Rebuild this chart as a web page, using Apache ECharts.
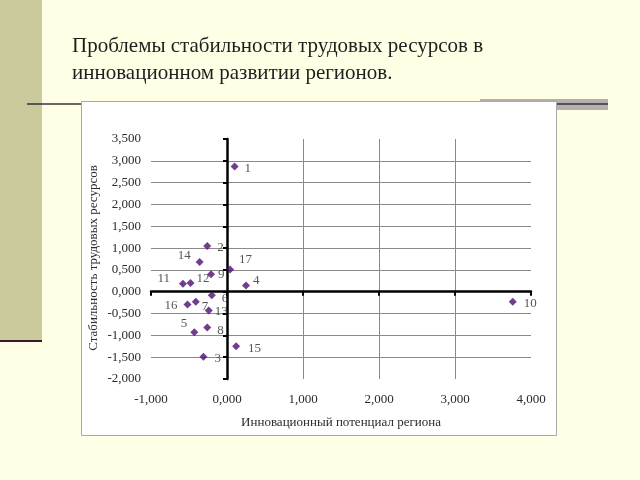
<!DOCTYPE html>
<html><head><meta charset="utf-8">
<script src="https://cdn.jsdelivr.net/npm/echarts@6/dist/echarts.min.js"></script>
<style>html,body{margin:0;padding:0;background:#FFFFE6;}#c{width:640px;height:480px;}</style>
</head><body><div id="c"></div>
<script>
const titleLines = ["Проблемы стабильности трудовых ресурсов в", "инновационном развитии регионов."];
const xName = "Инновационный потенциал региона";
const yName = "Стабильность трудовых ресурсов";
const pointLabels = ["1","2","3","4","5","6","7","8","9","10","11","12","13","14","15","16","17"];
const xValues = [0.10,-0.26,-0.31,0.25,-0.43,-0.20,-0.41,-0.26,-0.21,3.76,-0.58,-0.48,-0.24,-0.36,0.12,-0.52,0.04];
const yValues = [2.87,1.05,-1.49,0.14,-0.93,-0.08,-0.23,-0.82,0.40,-0.23,0.18,0.20,-0.43,0.68,-1.25,-0.29,0.51];
const labelPos = {
  "1":["right",[0,2]], "2":["right",[0,2]], "3":["right",[1,2]], "4":["right",[-3,-5]],
  "5":["left",[3,-9]], "6":["right",[0,3]], "7":["right",[-4,5]], "8":["right",[0,3]],
  "9":["right",[-3,0]], "10":["right",[1,2]], "11":["left",[-3,-5]], "12":["right",[-4,-4]],
  "13":["right",[-4,1]], "14":["left",[1,-6]], "15":["right",[2,2]], "16":["left",[0,1]],
  "17":["right",[-1,-10]]
};
const fmt = v => v.toFixed(3).replace('.', ',');
const serif = '"Liberation Serif","DejaVu Serif",serif';
const data = pointLabels.map((n,i)=>({
  value:[xValues[i], yValues[i]], name:n,
  label:{position:labelPos[n][0], offset:labelPos[n][1]}
}));
const chart = echarts.init(document.getElementById('c'));
chart.setOption({
  backgroundColor:'#FFFFE6',
  animation:false,
  graphic:[
    {type:'rect', shape:{x:0,y:0,width:42,height:341}, style:{fill:'#CACA9C'}, z:-10},
    {type:'rect', shape:{x:0,y:340,width:42,height:2}, style:{fill:'#3A1A2A'}, z:-9},
    {type:'rect', shape:{x:480,y:99,width:128,height:11}, style:{fill:'#B3B0AE'}, z:-9},
    {type:'line', shape:{x1:27,y1:104,x2:608,y2:104}, style:{stroke:'#3A3040',lineWidth:1.5}, z:-8},
    {type:'rect', shape:{x:81.5,y:101.5,width:475,height:334}, style:{fill:'#FFFFFF',stroke:'#A8A8A8',lineWidth:1}, z:-7},
    {type:'text', left:72, top:36, style:{text:titleLines[0], font:'21px '+serif, fill:'#1E1E1E'}},
    {type:'text', left:72, top:63, style:{text:titleLines[1], font:'21px '+serif, fill:'#1E1E1E'}},
    {type:'text', x:341, y:423, style:{text:xName, font:'13px '+serif, fill:'#2A2A2A', align:'center', verticalAlign:'middle'}},
    {type:'text', x:94, y:258, rotation:Math.PI/2, style:{text:yName, font:'13px '+serif, fill:'#2A2A2A', align:'center', verticalAlign:'middle'}}
  ],
  grid:{left:151, right:109, top:139, bottom:101},
  xAxis:[
    {type:'value', min:-1, max:4, interval:1, position:'bottom',
     axisLine:{show:false, onZero:false}, axisTick:{show:false},
     axisLabel:{formatter:fmt, fontFamily:serif, fontSize:13, color:'#2A2A2A', margin:14},
     splitLine:{show:true, showMinLine:false, showMaxLine:false, lineStyle:{color:'#8A8A8A', width:1}}},
    {type:'value', min:-1, max:4, interval:1, position:'bottom',
     axisLine:{show:true, onZero:true, onZeroAxisIndex:0, lineStyle:{color:'#000', width:2.5}},
     axisTick:{show:true, length:4, lineStyle:{color:'#000', width:2}},
     axisLabel:{show:false}, splitLine:{show:false}}
  ],
  yAxis:[
    {type:'value', min:-2, max:3.5, interval:0.5, position:'left',
     axisLine:{show:false, onZero:false}, axisTick:{show:false},
     axisLabel:{formatter:fmt, fontFamily:serif, fontSize:13, color:'#2A2A2A', margin:10},
     splitLine:{show:true, showMinLine:false, showMaxLine:false, lineStyle:{color:'#8A8A8A', width:1}}},
    {type:'value', min:-2, max:3.5, interval:0.5, position:'left',
     axisLine:{show:true, onZero:true, onZeroAxisIndex:0, lineStyle:{color:'#000', width:2.5}},
     axisTick:{show:true, length:4, lineStyle:{color:'#000', width:2}},
     axisLabel:{show:false}, splitLine:{show:false}}
  ],
  series:[{
    type:'scatter', xAxisIndex:0, yAxisIndex:0,
    symbol:'diamond', symbolSize:8,
    itemStyle:{color:'#4E0E72'},
    label:{show:true, formatter:p=>p.name, fontFamily:serif, fontSize:13, color:'#2A2A2A', distance:6},
    data:data
  }]
});
</script></body></html>
